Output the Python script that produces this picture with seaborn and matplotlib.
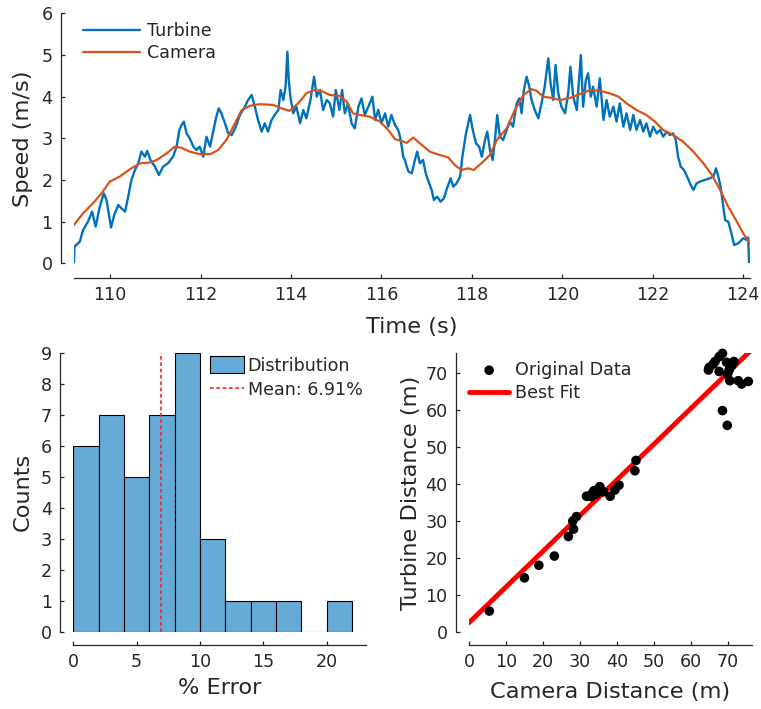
import numpy as np
import pandas as pd
import matplotlib
matplotlib.use("Agg")
import matplotlib.pyplot as plt
import seaborn as sns
from matplotlib.patches import Patch
from matplotlib.lines import Line2D

# ---------------- data ----------------
turbine_t = [109.20, 109.21, 109.33, 109.40, 109.51, 109.60, 109.68, 109.77, 109.86, 109.92,
             109.98, 110.02, 110.09, 110.18, 110.25, 110.33, 110.40, 110.47, 110.55, 110.62,
             110.69, 110.77, 110.82, 110.89, 110.99, 111.08, 111.17, 111.28, 111.39, 111.47,
             111.53, 111.58, 111.63, 111.69, 111.76, 111.84, 111.91, 111.98, 112.06, 112.13,
             112.21, 112.28, 112.34, 112.40, 112.46, 112.54, 112.61, 112.69, 112.78, 112.87,
             112.98, 113.05, 113.13, 113.20, 113.27, 113.35, 113.42, 113.49, 113.57, 113.64,
             113.72, 113.77, 113.83, 113.88, 113.92, 113.95, 113.99, 114.05, 114.12, 114.20,
             114.27, 114.34, 114.43, 114.51, 114.57, 114.64, 114.71, 114.79, 114.86, 114.93,
             114.99, 115.07, 115.13, 115.19, 115.26, 115.34, 115.41, 115.49, 115.56, 115.63,
             115.71, 115.80, 115.86, 115.93, 116.00, 116.08, 116.15, 116.22, 116.30, 116.37,
             116.41, 116.45, 116.48, 116.52, 116.56, 116.60, 116.67, 116.74, 116.79, 116.85,
             116.92, 116.98, 117.03, 117.11, 117.16, 117.23, 117.31, 117.38, 117.45, 117.53,
             117.59, 117.66, 117.74, 117.79, 117.87, 117.92, 117.96, 118.02, 118.09, 118.16,
             118.22, 118.29, 118.34, 118.40, 118.46, 118.51, 118.56, 118.62, 118.69, 118.77,
             118.84, 118.91, 118.99, 119.05, 119.10, 119.15, 119.21, 119.27, 119.32, 119.39,
             119.47, 119.54, 119.61, 119.69, 119.74, 119.80, 119.85, 119.91, 119.98, 120.06,
             120.13, 120.18, 120.24, 120.32, 120.37, 120.41, 120.46, 120.52, 120.57, 120.63,
             120.68, 120.76, 120.83, 120.91, 120.98, 121.05, 121.13, 121.20, 121.27, 121.35,
             121.42, 121.50, 121.57, 121.64, 121.72, 121.79, 121.86, 121.94, 122.01, 122.09,
             122.16, 122.23, 122.31, 122.38, 122.45, 122.51, 122.56, 122.62, 122.69, 122.76,
             122.84, 122.90, 122.97, 123.04, 123.15, 123.26, 123.34, 123.40, 123.45, 123.50,
             123.55, 123.60, 123.67, 123.74, 123.80, 123.89, 124.00, 124.08, 124.11, 124.13]
turbine_v = [0.00, 0.40, 0.52, 0.80, 1.00, 1.24, 0.88, 1.36, 1.68, 1.52,
             1.12, 0.86, 1.16, 1.40, 1.32, 1.24, 1.60, 2.00, 2.24, 2.40,
             2.68, 2.56, 2.70, 2.48, 2.32, 2.12, 2.32, 2.40, 2.56, 2.80,
             3.20, 3.32, 3.40, 3.12, 3.00, 2.80, 2.72, 2.80, 2.56, 3.04,
             2.80, 3.16, 3.48, 3.72, 3.60, 3.36, 3.12, 3.08, 3.28, 3.56,
             3.76, 3.92, 4.04, 3.76, 3.44, 3.16, 3.36, 3.16, 3.44, 3.56,
             3.68, 4.16, 3.92, 4.24, 5.08, 4.40, 3.96, 3.60, 3.76, 3.36,
             3.68, 3.48, 3.92, 4.48, 4.00, 4.16, 3.68, 3.92, 3.84, 3.52,
             4.16, 3.68, 4.16, 3.60, 3.84, 3.36, 3.24, 3.76, 3.96, 3.56,
             3.76, 4.00, 3.44, 3.68, 3.36, 3.60, 3.28, 3.56, 3.32, 3.20,
             3.04, 2.80, 2.56, 2.48, 2.32, 2.20, 2.16, 2.48, 2.68, 2.40,
             2.48, 2.16, 2.00, 1.76, 1.52, 1.60, 1.48, 1.56, 1.80, 2.04,
             1.84, 1.92, 2.08, 2.56, 3.12, 3.36, 3.56, 3.20, 2.88, 2.80,
             2.56, 2.96, 3.16, 2.72, 2.48, 2.96, 3.56, 3.04, 2.96, 3.20,
             3.40, 3.28, 3.84, 3.96, 3.60, 4.16, 4.48, 4.24, 3.92, 3.68,
             3.48, 3.84, 4.24, 4.92, 4.32, 3.92, 4.76, 4.08, 3.76, 3.60,
             4.08, 4.72, 4.00, 3.68, 4.40, 5.00, 3.76, 4.40, 4.56, 4.00,
             4.24, 3.76, 4.44, 3.44, 3.92, 3.52, 3.76, 3.40, 3.84, 3.28,
             3.60, 3.20, 3.56, 3.20, 3.44, 3.16, 3.36, 3.04, 3.28, 3.12,
             3.20, 3.04, 3.16, 3.08, 3.12, 2.96, 2.56, 2.32, 2.24, 2.08,
             1.88, 1.76, 1.92, 1.96, 2.00, 2.04, 2.08, 2.28, 2.08, 1.84,
             1.44, 1.04, 1.00, 0.72, 0.44, 0.48, 0.60, 0.56, 0.62, 0.00]

camera_t = [109.20, 109.40, 109.62, 109.81, 109.99, 110.21, 110.44, 110.66, 110.88, 111.03,
            111.25, 111.43, 111.58, 111.76, 111.98, 112.21, 112.39, 112.57, 112.76, 112.91,
            113.09, 113.31, 113.61, 113.79, 113.97, 114.16, 114.34, 114.49, 114.68, 114.86,
            115.08, 115.23, 115.37, 115.52, 115.74, 115.97, 116.15, 116.30, 116.43, 116.56,
            116.70, 116.85, 117.07, 117.29, 117.48, 117.62, 117.77, 117.92, 118.04, 118.21,
            118.40, 118.55, 118.77, 118.95, 119.14, 119.32, 119.43, 119.58, 119.76, 119.95,
            120.17, 120.39, 120.61, 120.83, 121.05, 121.24, 121.42, 121.64, 121.86, 122.05,
            122.23, 122.45, 122.67, 122.90, 123.12, 123.31, 123.49, 123.67, 123.86, 124.00,
            124.15]
camera_v = [0.92, 1.20, 1.44, 1.68, 1.96, 2.08, 2.26, 2.40, 2.42, 2.48,
            2.64, 2.80, 2.77, 2.68, 2.62, 2.62, 2.72, 2.96, 3.36, 3.68,
            3.78, 3.82, 3.80, 3.72, 3.66, 3.84, 4.08, 4.16, 4.13, 4.04,
            4.02, 3.88, 3.60, 3.56, 3.52, 3.40, 3.20, 2.98, 2.94, 2.89,
            3.02, 2.88, 2.68, 2.60, 2.54, 2.36, 2.24, 2.28, 2.24, 2.40,
            2.60, 2.96, 3.24, 3.68, 4.04, 4.18, 4.14, 4.00, 3.97, 3.92,
            3.97, 4.06, 4.16, 4.14, 4.08, 4.00, 3.84, 3.68, 3.56, 3.40,
            3.20, 3.08, 2.92, 2.68, 2.40, 2.12, 1.76, 1.36, 1.00, 0.72,
            0.48]

time_ticks = [110, 112, 114, 116, 118, 120, 122, 124]
speed_ticks = [0, 1, 2, 3, 4, 5, 6]

hist_edges = [0, 2, 4, 6, 8, 10, 12, 14, 16, 18, 20, 22]
hist_counts = [6, 7, 5, 7, 9, 3, 1, 1, 1, 0, 1]
mean_error = 6.91

camera_dist = [5.5, 15.0, 18.9, 23.1, 26.9, 28.3, 28.1, 29.1,
               31.8, 32.7, 33.4, 33.8, 34.4, 34.9, 35.4, 35.8, 36.4, 33.1,
               38.2, 39.5, 40.6, 44.9, 45.2,
               64.8, 65.0, 66.1, 66.6, 67.7, 68.6, 67.7, 69.7, 70.4, 71.1,
               71.7, 70.0, 70.6, 72.9, 73.8, 75.6, 68.6, 69.9]
turbine_dist = [5.6, 14.6, 18.0, 20.5, 25.8, 27.8, 30.0, 31.2,
                36.7, 36.8, 37.5, 38.2, 37.3, 38.6, 39.3, 38.4, 37.9, 36.6,
                36.7, 38.4, 39.7, 43.6, 46.4,
                70.9, 71.6, 72.5, 73.2, 74.5, 75.4, 70.5, 73.0, 70.9, 72.1,
                73.2, 69.8, 68.0, 68.0, 67.1, 67.8, 59.9, 55.9]

# ---------------- style ----------------
sns.set_style("ticks")
TXT = "#262626"
plt.rcParams["font.family"] = ["DejaVu Sans"]
plt.rcParams.update({
    "axes.edgecolor": TXT, "axes.labelcolor": TXT, "text.color": TXT,
    "xtick.color": TXT, "ytick.color": TXT, "axes.linewidth": 0.9,
})
BLUE = "#0072BD"
ORANGE = "#D95319"
HISTC = "#66AAD7"
TICK_FS = 12.6
LABEL_FS = 16.2

fig = plt.figure(figsize=(7.61, 7.09), dpi=100)
ax1 = fig.add_axes([0.0972, 0.6286, 0.8883, 0.3526])
ax2 = fig.add_axes([0.0963, 0.1090, 0.3846, 0.3935])
ax3 = fig.add_axes([0.6163, 0.1090, 0.3719, 0.3931])


def style(ax, xoff=9.6, yoff=9.4):
    sns.despine(ax=ax)
    ax.spines["left"].set_position(("outward", yoff))
    ax.spines["bottom"].set_position(("outward", xoff))
    ax.tick_params(direction="in", length=3, width=0.9, labelsize=TICK_FS,
                   pad=6, colors=TXT)


# ---- top: speed time series ----
sns.lineplot(x=turbine_t, y=turbine_v, ax=ax1, color=BLUE, lw=1.7,
             label="Turbine", estimator=None)
sns.lineplot(x=camera_t, y=camera_v, ax=ax1, color=ORANGE, lw=1.6,
             label="Camera", estimator=None)
ax1.set_xlim(109.2, 124.15)
ax1.set_ylim(0, 6)
ax1.set_xticks(time_ticks)
ax1.set_yticks(speed_ticks)
style(ax1, xoff=10.4)
ax1.set_xlabel("Time (s)", fontsize=LABEL_FS, labelpad=9)
ax1.set_ylabel("Speed (m/s)", fontsize=LABEL_FS, labelpad=6)
ax1.legend(loc="upper left", frameon=False, fontsize=TICK_FS, handlelength=3.3,
           handletextpad=0.35, labelspacing=0.25, borderaxespad=0.2, borderpad=0.3)

# ---- bottom left: histogram ----
centers = [(a + b) / 2 for a, b in zip(hist_edges[:-1], hist_edges[1:])]
sns.histplot(x=centers, weights=hist_counts, bins=hist_edges, ax=ax2,
             color=HISTC, alpha=1, edgecolor="black", linewidth=0.8)
ax2.axvline(mean_error, color="#FF2020", ls=(0, (2.2, 1.6)), lw=1.2)
ax2.set_xlim(0, 23.1)
ax2.set_ylim(0, 9)
ax2.set_xticks([0, 5, 10, 15, 20])
ax2.set_yticks(range(0, 10))
style(ax2)
ax2.set_xlabel("% Error", fontsize=LABEL_FS, labelpad=5)
ax2.set_ylabel("Counts", fontsize=LABEL_FS, labelpad=6)
h2 = [Patch(facecolor=HISTC, edgecolor="black", linewidth=0.8),
      Line2D([0], [0], color="#FF2020", ls=(0, (2.2, 1.6)), lw=1.2)]
ax2.legend(h2, ["Distribution", f"Mean: {mean_error:.2f}%"], loc="upper right",
           frameon=False, fontsize=TICK_FS, handlelength=1.95, handleheight=1.1,
           handletextpad=0.2, labelspacing=0.35, borderaxespad=0.0, borderpad=0.2)

# ---- bottom right: scatter + best fit ----
sdf = pd.DataFrame({"Camera": camera_dist, "Turbine": turbine_dist})
slope, intercept = np.polyfit(sdf["Camera"], sdf["Turbine"], 1)
xlim3 = (0, 76.6)
fit_df = pd.DataFrame({"x": list(xlim3)})
fit_df["y"] = intercept + slope * fit_df["x"]
sns.lineplot(data=fit_df, x="x", y="y", ax=ax3, color="red", lw=3.5,
             label="Best Fit", estimator=None)
sns.scatterplot(data=sdf, x="Camera", y="Turbine", ax=ax3, color="black", s=48,
                edgecolor="none", label="Original Data", zorder=3, clip_on=False)
ax3.set_xlim(*xlim3)
ax3.set_ylim(0, 75.5)
ax3.set_xticks(range(0, 80, 10))
ax3.set_yticks(range(0, 80, 10))
style(ax3)
ax3.set_xlabel("Camera Distance (m)", fontsize=LABEL_FS, labelpad=8)
ax3.set_ylabel("Turbine Distance (m)", fontsize=LABEL_FS, labelpad=3)
hs, ls = ax3.get_legend_handles_labels()
order = [ls.index("Original Data"), ls.index("Best Fit")]
ax3.legend([hs[i] for i in order], [ls[i] for i in order], loc="upper left",
           bbox_to_anchor=(0.0, 0.972), frameon=False, fontsize=TICK_FS,
           handlelength=2.3, handletextpad=0.3, labelspacing=0.3,
           borderaxespad=0.0, borderpad=0.0)

fig.savefig("out.png", dpi=100)
